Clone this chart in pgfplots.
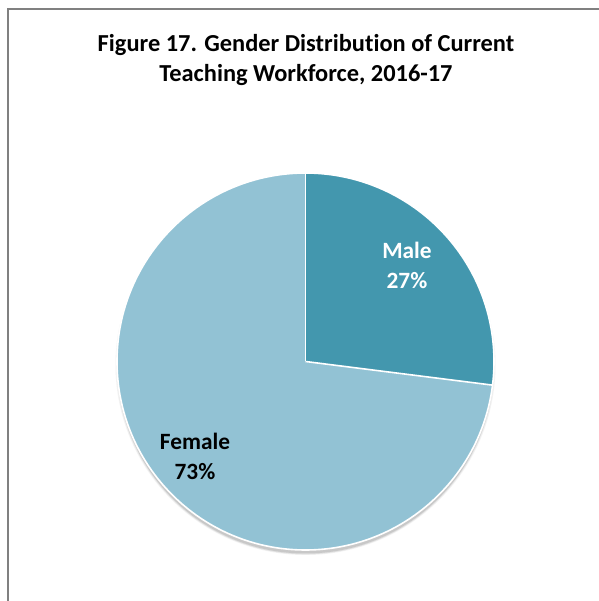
\documentclass[border=0pt]{standalone}
\usepackage{pgfplots}
\pgfplotsset{compat=1.18}
\usepackage{pgfplotstable}
\usepackage{fontspec}
\setmainfont{Carlito}[RawFeature=-liga]
\definecolor{malecol}{RGB}{67,151,174}
\definecolor{femalecol}{RGB}{146,194,212}
\definecolor{framecol}{RGB}{128,128,128}
\pgfplotstableread{
label value
Male 27
Female 73
}\piedata
\begin{document}%
\begin{tikzpicture}[x=0.75pt,y=0.75pt]
\pgfplotstablegetelem{0}{value}\of\piedata
\pgfmathsetmacro{\maleval}{\pgfplotsretval}
\pgfplotstablegetelem{1}{value}\of\piedata
\pgfmathsetmacro{\femaleval}{\pgfplotsretval}
\pgfmathsetmacro{\aA}{90}
\pgfmathsetmacro{\aB}{90-3.6*\maleval}
\pgfmathsetmacro{\aC}{\aB-3.6*\femaleval}
\pgfmathtruncatemacro{\malelab}{\maleval}
\pgfmathtruncatemacro{\femalelab}{\femaleval}
\begin{axis}[at={(0,0)},anchor=south west,scale only axis,
  width=449.25pt,height=450.75pt,
  xmin=0,xmax=599,ymin=0,ymax=601,hide axis,clip=false]
% frame
\draw[framecol,line width=1.5pt] (axis cs:8,0) -- (axis cs:8,592) -- (axis cs:599,592);
% title
\node[font=\fontsize{18.3}{22.5}\selectfont\bfseries,align=center] at (axis cs:306,541)
  {Figure 17. Gender Distribution of Current\\Teaching Workforce, 2016-17};
% shadow
\fill[black,opacity=0.05] (axis cs:305.5,236.0) circle[radius=142.5pt];
\fill[black,opacity=0.08] (axis cs:305.5,235.5) circle[radius=141.6pt];
\fill[black,opacity=0.10] (axis cs:305.5,235.5) circle[radius=141pt];
% slices
\fill[femalecol] (axis cs:305.5,239.5) -- ++(\aB:141.375pt) arc[start angle=\aB,end angle=\aC,radius=141.375pt] -- cycle;
\fill[malecol] (axis cs:305.5,239.5) -- ++(\aA:141.375pt) arc[start angle=\aA,end angle=\aB,radius=141.375pt] -- cycle;
\draw[white,line width=1.2pt] (axis cs:305.5,239.5) -- ++(\aA:141.375pt);
\draw[white,line width=1.2pt] (axis cs:305.5,239.5) -- ++(\aB:141.375pt);
\draw[white,line width=1.2pt] (axis cs:305.5,239.5) circle[radius=141.375pt];
% labels
\node[white,font=\fontsize{17.5}{22.5}\selectfont\bfseries,align=center] at (axis cs:407,336) {Male\\\malelab\%};
\node[black,font=\fontsize{17.5}{22.5}\selectfont\bfseries,align=center] at (axis cs:195,145) {Female\\\femalelab\%};
\end{axis}
\pgfresetboundingbox
\useasboundingbox (0,0) rectangle (599,601);
\end{tikzpicture}%
\end{document}
